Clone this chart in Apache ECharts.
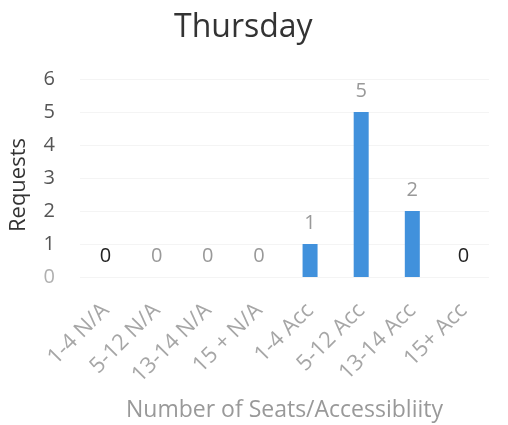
<!DOCTYPE html>
<html>
<head>
<meta charset="utf-8">
<script src="https://cdn.jsdelivr.net/npm/echarts@6/dist/echarts.min.js"></script>
<style>
  html, body { margin: 0; padding: 0; background: #fff; }
  #chart { width: 508px; height: 425px; }
</style>
</head>
<body>
<div id="chart"></div>
<script>
// Seat-size / accessibility categories and request counts for Thursday
const categories = ['1-4 N/A', '5-12 N/A', '13-14 N/A', '15 + N/A', '1-4 Acc', '5-12 Acc', '13-14 Acc', '15+ Acc'];
const requests = [0, 0, 0, 0, 1, 5, 2, 0];
// Value labels drawn dark instead of grey
const darkLabelIdx = [0, 7];

const FONT = '"Open Sans", sans-serif';

const chart = echarts.init(document.getElementById('chart'), null, { renderer: 'canvas' });

chart.setOption({
  animation: false,
  backgroundColor: '#ffffff',
  title: {
    text: 'Thursday',
    left: 169,
    top: 7,
    textStyle: { fontFamily: FONT, fontSize: 32, fontWeight: 'normal', color: '#333' }
  },
  grid: { left: 80, right: 19, top: 79, bottom: 148, containLabel: false },
  xAxis: {
    type: 'category',
    data: categories,
    name: 'Number of Seats/Accessibliity',
    nameLocation: 'middle',
    nameGap: 122,
    nameTextStyle: { fontFamily: FONT, fontSize: 23, color: '#999' },
    axisLine: { show: false },
    axisTick: { show: false },
    axisLabel: {
      rotate: 45,
      margin: 30,
      interval: 0,
      fontFamily: FONT,
      fontSize: 22,
      color: '#a6a6a6'
    }
  },
  yAxis: {
    type: 'value',
    min: 0,
    max: 6,
    interval: 1,
    name: 'Requests',
    nameLocation: 'middle',
    nameGap: 50,
    nameRotate: 90,
    nameTextStyle: { fontFamily: FONT, fontSize: 22, color: '#333', padding: [0, 14, 0, 0] },
    axisLine: { show: false },
    axisTick: { show: false },
    splitLine: { lineStyle: { color: '#f4f4f4', width: 1 } },
    axisLabel: {
      margin: 25,
      fontFamily: FONT,
      fontSize: 20,
      formatter: v => (v === 0 ? '{z|0}' : '{n|' + v + '}'),
      rich: {
        z: { fontFamily: FONT, fontSize: 20, color: '#b0b0b0' },
        n: { fontFamily: FONT, fontSize: 20, color: '#555' }
      }
    }
  },
  series: [{
    type: 'bar',
    data: requests.map((v, i) => ({
      value: v,
      label: { color: darkLabelIdx.includes(i) ? '#222' : '#999' }
    })),
    barWidth: 15,
    itemStyle: { color: '#4191dc' },
    label: {
      show: true,
      position: 'top',
      distance: 11,
      fontFamily: FONT,
      fontSize: 20
    }
  }]
});
</script>
</body>
</html>
